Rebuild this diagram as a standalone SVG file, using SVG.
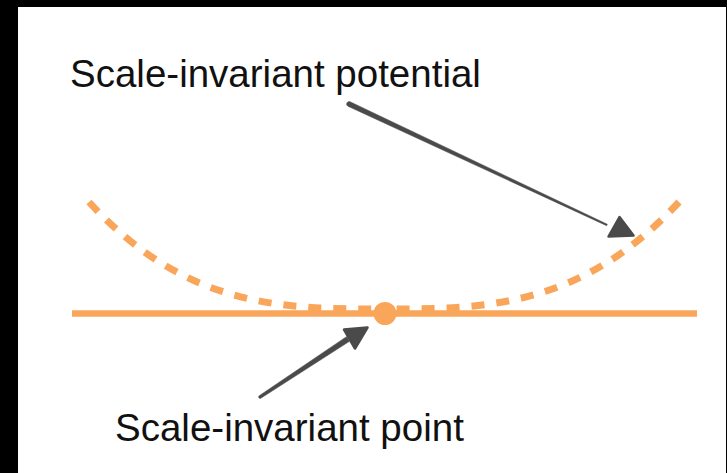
<svg xmlns="http://www.w3.org/2000/svg" width="727" height="473" viewBox="0 0 727 473">
  <style>
    .label { font-family: "Liberation Sans", Arial, Helvetica, sans-serif; font-size: 38.5px; fill: #111111; }
    .orange { stroke: #F9A65A; fill: none; }
    .dash { stroke-width: 7; stroke-dasharray: 13 12; }
    .arrow { fill: #4A4A4A; stroke: #4A4A4A; stroke-linejoin: round; }
  </style>
  <rect x="0" y="0" width="727" height="473" fill="#000000"/>
  <rect x="18" y="7" width="708" height="466" fill="#FFFFFF"/>

  <g id="potential-curve">
    <path class="orange dash" d="M 89 202 C 187 309, 285 309, 384 309"/>
    <path class="orange dash" d="M 679 202 C 580 309, 482 309, 384 309"/>
  </g>

  <g id="baseline">
    <line class="orange" x1="72" y1="313.5" x2="697" y2="313.5" stroke-width="6.5"/>
  </g>

  <g id="invariant-point">
    <circle cx="385" cy="313.5" r="11.5" fill="#F9A65A"/>
  </g>

  <g id="label-potential">
    <text class="label" x="70" y="86.5">Scale-invariant potential</text>
  </g>

  <g id="label-point">
    <text class="label" x="115" y="440.5">Scale-invariant point</text>
  </g>

  <g id="connectors">
    <g id="arrow-potential">
      <path class="arrow" stroke-width="0.5" d="M 350.06 101.74 L 607.34 224.28 L 606.66 225.72 L 347.94 106.26 A 2.5 2.5 0 0 1 350.06 101.74 Z"/>
      <polygon class="arrow" stroke-width="2.5" points="619.5,217 608.5,236.5 633.5,235.5"/>
    </g>
    <g id="arrow-point">
      <path class="arrow" stroke-width="0.5" d="M 259.18 395.75 L 346.47 336.66 L 349.53 341.34 L 260.82 398.25 A 1.5 1.5 0 0 1 259.18 395.75 Z"/>
      <polygon class="arrow" stroke-width="2.5" points="344,329.5 367.5,327.5 355,348.5"/>
    </g>
  </g>
</svg>
